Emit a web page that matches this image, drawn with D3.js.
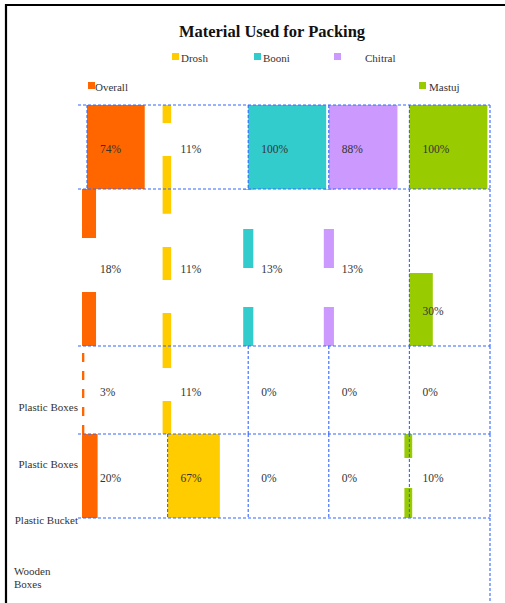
<!DOCTYPE html>
<html>
<head>
<meta charset="utf-8">
<script src="https://cdn.jsdelivr.net/npm/d3@7"></script>
<style>
  html, body { margin: 0; padding: 0; background: #fff; }
  svg { display: block; }
  text { font-family: "Liberation Serif", "DejaVu Serif", serif; }
</style>
</head>
<body>
<svg id="chart" width="505" height="603"></svg>
<script>
// ---- data ----
const series = ["Overall", "Drosh", "Booni", "Chitral", "Mastuj"];
const categories = ["Plastic Boxes", "Plastic Boxes", "Plastic Bucket", "Wooden Boxes"];
const overall = [74, 18, 3, 20];
const drosh   = [11, 11, 11, 67];
const booni   = [100, 13, 0, 0];
const chitral = [88, 13, 0, 0];
const mastuj  = [100, 30, 0, 10];
const values = [overall, drosh, booni, chitral, mastuj];

// ---- styling / layout ----
const colors = ["#FF6600", "#FFCC00", "#33CCCC", "#CC99FF", "#99CC00"];
const gridColor = "#3366ff";
const svg = d3.select("#chart");

// frame
svg.append("path")
  .attr("d", "M6,603V5H505")
  .attr("fill", "none").attr("stroke", "#000").attr("stroke-width", 2.2);

// title
svg.append("text")
  .attr("x", 272).attr("y", 37)
  .attr("text-anchor", "middle")
  .attr("font-size", 16.5).attr("font-weight", "bold").attr("fill", "#111")
  .text("Material Used for Packing");

// legend placement (swatch x, swatch y, text x)
const legendPos = {
  Drosh:   [172, 53, 181],
  Booni:   [254, 53, 263],
  Chitral: [334, 53, 365],
  Overall: [88, 82, 95],
  Mastuj:  [419, 82, 429]
};
const legend = svg.append("g").attr("class", "legend");
series.forEach((s, i) => {
  const [sx, sy, tx] = legendPos[s];
  legend.append("rect").attr("x", sx).attr("y", sy).attr("width", 7).attr("height", 7)
    .attr("fill", colors[i]);
  legend.append("text").attr("x", tx).attr("y", sy + 9)
    .attr("font-size", 11).attr("fill", "#333").text(s);
});

// scales
const x = d3.scaleBand().domain(series).range([87, 490]).paddingInner(0).paddingOuter(0);
const w = d3.scaleLinear().domain([0, 100]).range([0, 78]);
// rows have individual heights: piecewise row-edge scale
const rowY = d3.scaleLinear().domain([0, 1, 2, 3, 4]).range([105, 189, 346, 434, 518]);
// category tick labels sit on their own point scale
const tickY = d3.scalePoint().domain(d3.range(categories.length)).range([407, 577]);

// partial-height bar: fraction of its row covered, from top
const partialSpan = { "Mastuj|1": [0.535, 1] };

const cells = [];
series.forEach((s, c) => {
  values[c].forEach((v, r) => cells.push({ s, c, r, v }));
});

const barsG = svg.append("g").attr("class", "bars");
cells.forEach(d => {
  if (d.v <= 0) return;
  const span = partialSpan[d.s + "|" + d.r] || [0, 1];
  const top = rowY(d.r + span[0]);
  const bot = rowY(d.r + span[1]);
  const bw = w(d.v);
  const x0 = d.v < 25 ? x(d.s) - 5 : x(d.s);
  d.labelY = (top + bot) / 2;
  if (d.v >= 20) {
    barsG.append("rect")
      .attr("x", x0).attr("y", top).attr("width", bw).attr("height", bot - top)
      .attr("fill", colors[d.c]);
  } else {
    // thin bars are drawn as dashed strokes, dash length scaled to stroke width
    const dash = bw * 3.85;
    barsG.append("line")
      .attr("x1", x0 + bw / 2).attr("x2", x0 + bw / 2)
      .attr("y1", bot).attr("y2", top)
      .attr("stroke", colors[d.c]).attr("stroke-width", bw)
      .attr("stroke-dasharray", `${dash} ${dash}`);
  }
});

// dotted grid: horizontal rules at every row edge, vertical rules per row
const verticalEdges = [[0, 2, 3, 4, 5], [4, 5], [2, 3, 4, 5], [1, 2, 3, 4, 5]];
const edgeX = k => (k < series.length ? x(series[k]) : x(series[series.length - 1]) + x.bandwidth());
const grid = svg.append("g").attr("class", "grid")
  .attr("stroke", gridColor).attr("stroke-width", 1.1)
  .attr("stroke-dasharray", "3 2").attr("fill", "none");
d3.range(5).forEach(i => {
  grid.append("line").attr("x1", 78).attr("x2", 490)
    .attr("y1", rowY(i)).attr("y2", rowY(i));
});
verticalEdges.forEach((edges, r) => {
  edges.forEach(k => {
    grid.append("line").attr("x1", edgeX(k)).attr("x2", edgeX(k))
      .attr("y1", rowY(r)).attr("y2", rowY(r + 1));
  });
});
grid.append("line").attr("x1", edgeX(5)).attr("x2", edgeX(5)).attr("y1", rowY(4)).attr("y2", 603);

// value labels
const labels = svg.append("g").attr("class", "labels");
cells.forEach(d => {
  const y = d.labelY !== undefined ? d.labelY : (rowY(d.r) + rowY(d.r + 1)) / 2;
  labels.append("text")
    .attr("x", x(d.s) + 13).attr("y", y + 3)
    .attr("dominant-baseline", "middle")
    .attr("font-size", 11.5).attr("fill", "#333")
    .text(d.v + "%");
});

// category labels
const cat = svg.append("g").attr("class", "categories");
categories.forEach((name, i) => {
  const y = tickY(i);
  if (y > rowY(4) + 30) {
    // labels below the grid wrap one word per line
    const words = name.split(" ");
    const t = cat.append("text").attr("font-size", 11).attr("fill", "#333");
    words.forEach((wd, k) => {
      t.append("tspan").attr("x", 14)
        .attr("y", y + (k - (words.length - 1) / 2) * 13 + 4)
        .text(wd);
    });
  } else {
    cat.append("text").attr("x", 78).attr("y", y + 4)
      .attr("text-anchor", "end").attr("font-size", 11).attr("fill", "#333")
      .text(name);
  }
});
</script>
</body>
</html>
